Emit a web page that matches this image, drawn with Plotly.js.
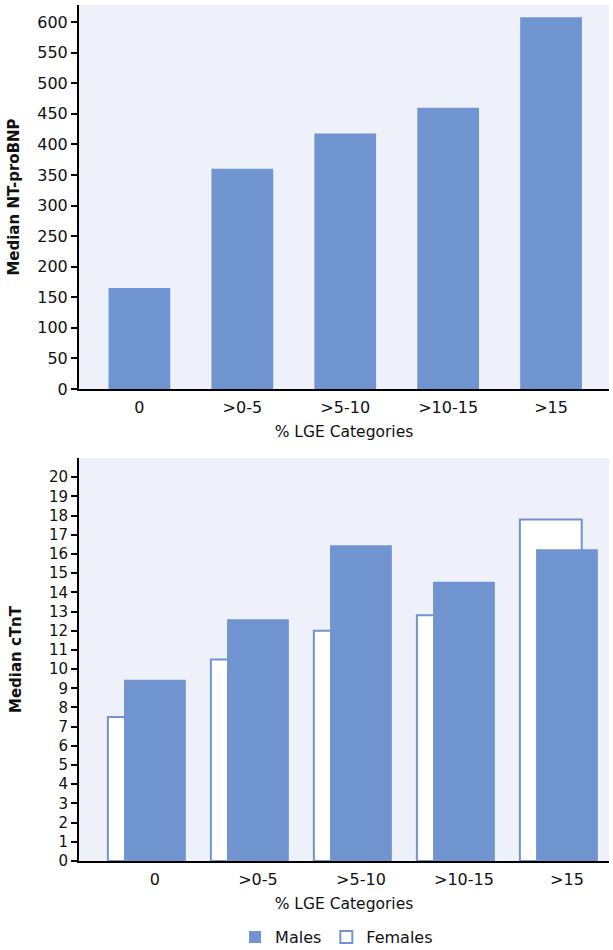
<!DOCTYPE html>
<html>
<head>
<meta charset="utf-8">
<script src="https://cdn.plot.ly/plotly-3.0.1.min.js"></script>
<style>html,body{margin:0;padding:0;background:#fff;}</style>
</head>
<body>
<div id="chart" style="width:613px;height:950px;"></div>
<script>
// Data
const categories = ["0", ">0-5", ">5-10", ">10-15", ">15"];
const ntProBNP = [165, 360, 418, 460, 608];
const cTnTMales = [9.45, 12.6, 16.45, 14.55, 16.25];
const cTnTFemales = [7.5, 10.5, 12.0, 12.8, 17.8];
const yTicksBNP = [0, 50, 100, 150, 200, 250, 300, 350, 400, 450, 500, 550, 600];
const yTicksCTnT = [0, 1, 2, 3, 4, 5, 6, 7, 8, 9, 10, 11, 12, 13, 14, 15, 16, 17, 18, 19, 20];

const barColor = "#7094d0";
const bg = "#eef1f9";
const fontFam = "'DejaVu Sans', sans-serif";
const txt = "#111111";

const traces = [
  {
    type: "bar", x: categories, y: ntProBNP, xaxis: "x", yaxis: "y",
    width: 0.6, marker: {color: barColor}, showlegend: false, hoverinfo: "skip"
  },
  {
    type: "bar", name: "Males", x: categories, y: cTnTMales, xaxis: "x2", yaxis: "y2",
    width: 0.6, offset: -0.3, marker: {color: barColor, line: {width: 0}}, hoverinfo: "skip"
  },
  {
    type: "bar", name: "Females", x: categories, y: cTnTFemales, xaxis: "x2", yaxis: "y2",
    width: 0.6, offset: -0.457, marker: {color: "#ffffff", line: {color: barColor, width: 2}}, hoverinfo: "skip"
  }
];
// draw females behind males
const data = [traces[0], traces[2], traces[1]];

const tickFont = {family: fontFam, size: 16, color: txt};
const tickFont2 = {family: fontFam, size: 15, color: txt};
const axTitleFont = {family: fontFam, size: 15, color: txt};
const xTitleFont = {family: fontFam, size: 15.5, color: txt};

const layout = {
  width: 613, height: 950,
  margin: {l: 79, r: 4, t: 5, b: 89, autoexpand: false},
  paper_bgcolor: "#ffffff",
  plot_bgcolor: bg,
  barmode: "overlay",
  showlegend: true,
  legend: {
    orientation: "h", x: 0.486, xanchor: "center", y: -0.089, yanchor: "middle",
    font: {family: fontFam, size: 16, color: txt},
    traceorder: "reversed"
  },
  xaxis: {
    domain: [0, 1], anchor: "y", type: "category", range: [-0.587, 4.563],
    showline: true, linecolor: "#000", linewidth: 2, ticks: "", showgrid: false,
    tickfont: tickFont, ticklabelstandoff: 3, fixedrange: true, automargin: false,
    title: {text: "% LGE Categories", font: xTitleFont, standoff: 10}
  },
  yaxis: {
    domain: [0.5514, 1], anchor: "x", range: [0, 628],
    tickvals: yTicksBNP, showline: true, linecolor: "#000", linewidth: 2,
    ticks: "outside", ticklen: 6, tickwidth: 2, tickcolor: "#000", showgrid: false, zeroline: false,
    tickfont: tickFont, fixedrange: true, automargin: false,
    title: {text: "<b>Median NT-proBNP</b>", font: axTitleFont, standoff: 14}
  },
  xaxis2: {
    domain: [0, 1], anchor: "y2", type: "category", range: [-0.737, 4.408],
    showline: true, linecolor: "#000", linewidth: 2, ticks: "", showgrid: false,
    tickfont: tickFont, ticklabelstandoff: 3, fixedrange: true, automargin: false,
    title: {text: "% LGE Categories", font: xTitleFont, standoff: 10}
  },
  yaxis2: {
    domain: [0, 0.4708], anchor: "x2", range: [0, 21],
    tickvals: yTicksCTnT, showline: true, linecolor: "#000", linewidth: 2,
    ticks: "outside", ticklen: 6, tickwidth: 2, tickcolor: "#000", showgrid: false, zeroline: false,
    tickfont: tickFont2, fixedrange: true, automargin: false,
    title: {text: "<b>Median cTnT</b>", font: axTitleFont, standoff: 24}
  }
};

Plotly.newPlot("chart", data, layout, {displayModeBar: false, staticPlot: true});
</script>
</body>
</html>
